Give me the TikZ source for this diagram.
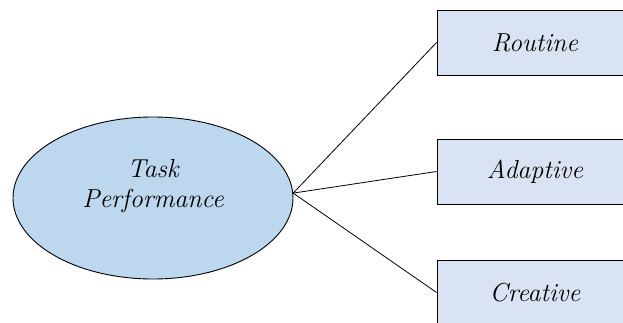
\documentclass[tikz,border=0pt]{standalone}
\usetikzlibrary{shapes.geometric}
\definecolor{ovalfill}{HTML}{BDD7EE}
\definecolor{boxfill}{HTML}{DAE3F3}
\begin{document}
\begin{tikzpicture}[x=1pt,y=-1pt,
  oval/.style={ellipse,draw=black,line width=0.9pt,fill=ovalfill,
    minimum width=280pt,minimum height=162pt,inner sep=0pt},
  kindbox/.style={rectangle,draw=black,line width=0.9pt,fill=boxfill,
    minimum width=196pt,minimum height=65pt,inner sep=0pt,
    font=\itshape\fontsize{26}{30}\selectfont},
  link/.style={draw=black,line width=0.8pt}]
\useasboundingbox (0,0) rectangle (623,323);
\clip (0,0) rectangle (623,323);
% central construct
\node[oval] (tp) at (153,198) {};
\node[align=center,font=\itshape\fontsize{26}{30}\selectfont] (tptext) at (153,186) {Task\\Performance};
% dimensions
\node[kindbox] (routine) at (535,42.5) {Routine};
\node[kindbox] (adaptive) at (535,171.5) {Adaptive};
\node[kindbox] (creative) at (535,292.5) {Creative};
% connectors
\coordinate (hub) at (tp.2);
\draw[link] (hub) -- (routine.west);
\draw[link] (hub) -- (adaptive.west);
\draw[link] (hub) -- (creative.west);
\end{tikzpicture}
\end{document}
